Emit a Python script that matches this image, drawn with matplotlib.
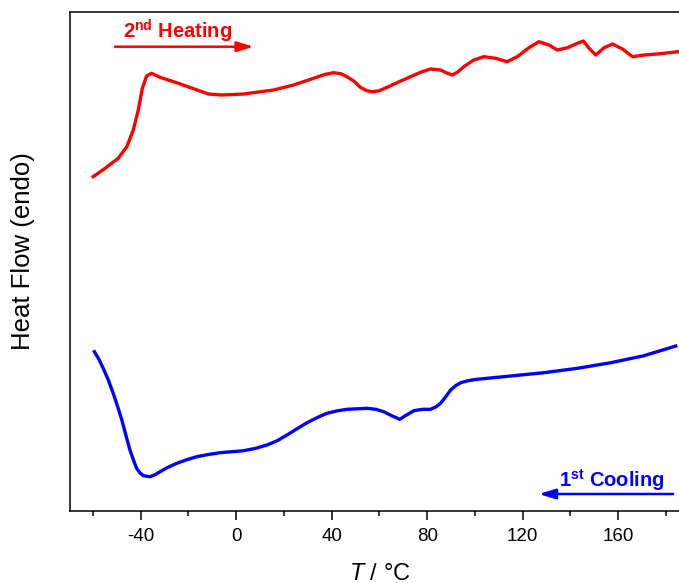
import matplotlib
matplotlib.use("Agg")
import matplotlib.pyplot as plt
from matplotlib.ticker import MultipleLocator

# DSC traces (temperature in degC, heat flow in arbitrary units)
heat_T = [-59.9, -54.9, -49.4, -45.8, -43.1, -41.0, -39.3, -37.5, -35.4, -31.9,
          -24.2, -17.2, -11.6, -6.0, 3.1, 15.6, 24.0, 32.4, 37.0, 40.8,
          44.0, 46.4, 49.5, 52.0, 54.5, 56.9, 59.8, 63.2, 68.0, 73.0,
          77.5, 81.4, 85.6, 88.0, 90.5, 92.8, 95.3, 99.5, 103.7, 108.6,
          113.5, 117.7, 122.6, 126.8, 131.0, 134.5, 138.7, 142.9, 145.4, 147.8,
          150.6, 154.1, 157.6, 161.8, 166.0, 170.9, 176.5, 184.9]
heat_Q = [334.0, 342.4, 352.4, 364.0, 380.7, 400.7, 422.4, 434.7, 437.4, 433.4,
          427.4, 421.4, 416.7, 415.7, 416.7, 420.7, 425.7, 432.4, 436.2, 438.0,
          436.9, 434.0, 429.2, 423.4, 420.2, 419.0, 419.9, 423.4, 428.7, 434.0,
          438.7, 441.7, 440.7, 437.9, 435.7, 438.7, 444.0, 450.7, 454.0, 452.4,
          449.0, 454.0, 463.0, 469.0, 465.7, 460.7, 463.0, 467.4, 469.7, 462.4,
          455.7, 463.0, 466.7, 461.7, 454.0, 455.7, 456.7, 459.0]

cool_T = [-59.4, -57.5, -55.7, -53.6, -51.5, -49.7, -47.9, -46.2, -44.5, -43.0,
          -41.7, -40.3, -38.9, -36.1, -33.8, -31.9, -28.5, -24.9, -20.7, -16.5,
          -11.5, -6.7, 3.1, 8.0, 12.9, 17.2, 21.3, 25.5, 29.7, 34.0,
          38.0, 42.2, 46.4, 54.8, 58.5, 61.8, 65.3, 68.5, 71.2, 74.4,
          78.0, 81.4, 83.6, 85.6, 87.7, 89.8, 91.9, 94.0, 97.5, 101.0,
          114.9, 128.9, 142.9, 156.9, 170.8, 184.1]
cool_Q = [159.0, 151.5, 142.4, 131.0, 117.4, 104.5, 90.7, 75.5, 60.7, 50.5,
          42.4, 37.8, 35.0, 34.0, 36.2, 39.0, 43.5, 47.4, 51.0, 54.0,
          56.3, 58.0, 60.0, 62.3, 65.7, 70.0, 75.7, 82.0, 88.0, 93.2,
          97.4, 99.8, 101.4, 102.4, 101.4, 99.0, 94.8, 91.4, 95.5, 100.0,
          101.4, 101.4, 103.8, 107.4, 113.8, 120.7, 125.0, 128.0, 130.2, 131.4,
          134.7, 138.0, 142.4, 148.0, 155.0, 164.7]

plt.rcParams.update({
    "font.family": ["Liberation Sans", "DejaVu Sans"],
    "mathtext.fontset": "custom",
    "mathtext.rm": "Liberation Sans",
    "mathtext.it": "Liberation Sans:italic",
    "mathtext.bf": "Liberation Sans:bold",
    "axes.linewidth": 1.1,
    "axes.unicode_minus": False,
})

fig = plt.figure(figsize=(6.79, 5.83), dpi=100)
ax = fig.add_axes([0.1031, 0.124, 0.9129, 0.8549])

ax.plot(heat_T, heat_Q, color="#FF0000", lw=2.4, solid_joinstyle="round")
ax.plot(cool_T, cool_Q, color="#0000FF", lw=2.4, solid_joinstyle="round")

ax.set_xlim(-69.6, 190)
ax.set_ylim(0, 498.4)

ax.xaxis.set_major_locator(MultipleLocator(40))
ax.xaxis.set_minor_locator(MultipleLocator(20))
ax.tick_params(axis="x", which="major", direction="out", length=6.5, width=1.1,
               labelsize=13.5, pad=6)
ax.tick_params(axis="x", which="minor", direction="out", length=3.6, width=1.1)
ax.set_yticks([])
for s in ax.spines.values():
    s.set_color("black")

fig.text(0.5592, 0.006, "$T$ / °C", ha="center", va="baseline", fontsize=17)
fig.text(23 / 679, 0.5686, "Heat Flow (endo)", rotation=90,
         ha="center", va="center", fontsize=18.5)

# run direction labels with arrows
ax.text(-47.5, 472.4, r"2$^{\mathbf{nd}}$ Heating", color="#FF0000",
        fontsize=14.5, fontweight="bold", ha="left", va="baseline")
ax.annotate("", xy=(7.3, 464.0), xytext=(-50.8, 464.0),
            arrowprops=dict(arrowstyle="-|>,head_length=0.55,head_width=0.17",
                            color="#FF0000", lw=1.8, mutation_scale=18,
                            shrinkA=0, shrinkB=0))

ax.text(135.2, 24.0, r"1$^{\mathbf{st}}$ Cooling", color="#0000FF",
        fontsize=14.5, fontweight="bold", ha="left", va="baseline")
ax.annotate("", xy=(126.8, 16.7), xytext=(183.0, 16.7),
            arrowprops=dict(arrowstyle="-|>,head_length=0.55,head_width=0.17",
                            color="#0000FF", lw=1.8, mutation_scale=18,
                            shrinkA=0, shrinkB=0))

fig.savefig("out.png", dpi=100)
